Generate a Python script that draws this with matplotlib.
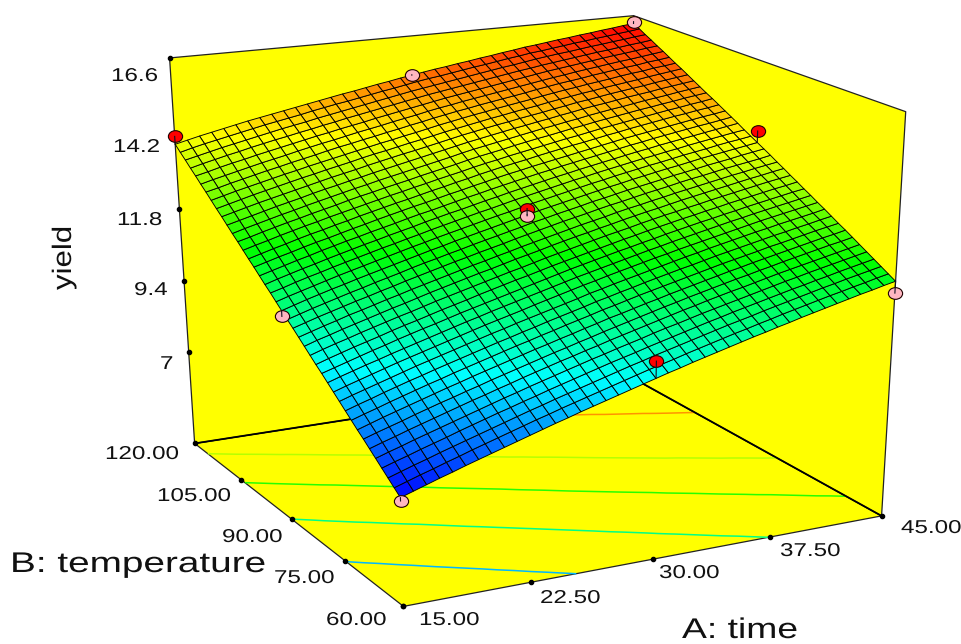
import numpy as np
import matplotlib
matplotlib.use('Agg')
import matplotlib.pyplot as plt
import matplotlib.patheffects as pe
from matplotlib.colors import LinearSegmentedColormap, Normalize
from matplotlib.path import Path
from matplotlib.transforms import Affine2D
from mpl_toolkits.mplot3d.art3d import Poly3DCollection

W, H = 962, 644
plt.rcParams['font.family'] = ['Liberation Sans', 'DejaVu Sans']

# axis ranges and ticks
A_TICKS = [15.0, 22.5, 30.0, 37.5, 45.0]
B_TICKS = [60.0, 75.0, 90.0, 105.0, 120.0]
Z_TICKS = [7.0, 9.4, 11.8, 14.2, 16.6]
Z_FLOOR = 3.8

# design points
RED_A = [30, 30, 45, 15]
RED_B = [60, 90, 90, 120]
RED_Y = [10.08, 12.75, 14.35, 14.13]
PINK_A = [15, 45, 15, 30, 30, 45]
PINK_B = [60, 60, 90, 90, 120, 120]
PINK_Y = [7.08, 11.08, 10.37, 12.52, 15.34, 16.40]

SURF_A = np.linspace(15, 45, 41)
SURF_B = np.linspace(60, 120, 41)
SURF_Z = [
    [7.18, 7.31, 7.44, 7.57, 7.69, 7.82, 7.94, 8.06, 8.18, 8.30, 8.42, 8.54, 8.66, 8.77, 8.89, 9.00, 9.11, 9.22, 9.33, 9.44, 9.55, 9.66, 9.76, 9.87, 9.97, 10.07, 10.17, 10.27, 10.37, 10.46, 10.56, 10.65, 10.75, 10.84, 10.93, 11.02, 11.11, 11.20, 11.28, 11.37, 11.45],
    [7.35, 7.48, 7.61, 7.73, 7.86, 7.98, 8.11, 8.23, 8.35, 8.47, 8.59, 8.71, 8.82, 8.94, 9.05, 9.16, 9.27, 9.38, 9.49, 9.60, 9.71, 9.81, 9.91, 10.02, 10.12, 10.22, 10.32, 10.42, 10.51, 10.61, 10.70, 10.80, 10.89, 10.98, 11.07, 11.16, 11.24, 11.33, 11.41, 11.50, 11.58],
    [7.52, 7.65, 7.78, 7.90, 8.03, 8.15, 8.27, 8.39, 8.51, 8.63, 8.75, 8.87, 8.98, 9.10, 9.21, 9.32, 9.43, 9.54, 9.65, 9.76, 9.86, 9.97, 10.07, 10.17, 10.27, 10.37, 10.47, 10.57, 10.66, 10.75, 10.85, 10.94, 11.03, 11.12, 11.21, 11.30, 11.38, 11.47, 11.55, 11.63, 11.71],
    [7.69, 7.82, 7.94, 8.07, 8.19, 8.31, 8.44, 8.56, 8.68, 8.80, 8.91, 9.03, 9.14, 9.26, 9.37, 9.48, 9.59, 9.70, 9.81, 9.91, 10.01, 10.12, 10.22, 10.32, 10.42, 10.52, 10.62, 10.71, 10.81, 10.90, 10.99, 11.08, 11.17, 11.26, 11.34, 11.43, 11.51, 11.60, 11.68, 11.76, 11.84],
    [7.86, 7.99, 8.11, 8.24, 8.36, 8.48, 8.60, 8.72, 8.84, 8.96, 9.08, 9.19, 9.31, 9.42, 9.53, 9.64, 9.75, 9.86, 9.96, 10.07, 10.17, 10.27, 10.38, 10.48, 10.57, 10.67, 10.77, 10.86, 10.95, 11.04, 11.13, 11.22, 11.31, 11.40, 11.48, 11.57, 11.65, 11.73, 11.81, 11.89, 11.97],
    [8.03, 8.16, 8.28, 8.41, 8.53, 8.65, 8.77, 8.89, 9.01, 9.12, 9.24, 9.35, 9.47, 9.58, 9.69, 9.80, 9.90, 10.01, 10.11, 10.22, 10.32, 10.42, 10.52, 10.62, 10.72, 10.82, 10.91, 11.01, 11.10, 11.19, 11.27, 11.36, 11.45, 11.54, 11.62, 11.70, 11.78, 11.86, 11.94, 12.02, 12.10],
    [8.20, 8.33, 8.45, 8.57, 8.70, 8.82, 8.94, 9.05, 9.17, 9.28, 9.40, 9.51, 9.62, 9.73, 9.84, 9.95, 10.05, 10.16, 10.26, 10.37, 10.47, 10.57, 10.67, 10.77, 10.87, 10.96, 11.06, 11.15, 11.24, 11.33, 11.42, 11.50, 11.59, 11.67, 11.76, 11.84, 11.92, 12.00, 12.08, 12.15, 12.23],
    [8.36, 8.49, 8.62, 8.74, 8.86, 8.98, 9.10, 9.22, 9.33, 9.45, 9.56, 9.67, 9.78, 9.89, 10.00, 10.10, 10.21, 10.31, 10.42, 10.52, 10.63, 10.72, 10.82, 10.92, 11.01, 11.11, 11.20, 11.29, 11.38, 11.47, 11.56, 11.64, 11.73, 11.81, 11.89, 11.97, 12.05, 12.13, 12.21, 12.28, 12.36],
    [8.53, 8.66, 8.78, 8.91, 9.03, 9.15, 9.27, 9.38, 9.50, 9.61, 9.72, 9.83, 9.94, 10.05, 10.15, 10.26, 10.36, 10.47, 10.57, 10.67, 10.78, 10.87, 10.97, 11.07, 11.16, 11.25, 11.34, 11.43, 11.52, 11.61, 11.70, 11.78, 11.86, 11.94, 12.03, 12.10, 12.18, 12.26, 12.34, 12.41, 12.48],
    [8.70, 8.83, 8.95, 9.08, 9.20, 9.32, 9.43, 9.55, 9.66, 9.77, 9.88, 9.99, 10.10, 10.20, 10.31, 10.41, 10.52, 10.62, 10.72, 10.82, 10.93, 11.02, 11.12, 11.21, 11.31, 11.40, 11.49, 11.58, 11.66, 11.75, 11.84, 11.92, 12.00, 12.08, 12.16, 12.24, 12.31, 12.39, 12.46, 12.54, 12.61],
    [8.87, 9.00, 9.12, 9.24, 9.36, 9.48, 9.60, 9.71, 9.82, 9.93, 10.04, 10.15, 10.26, 10.36, 10.47, 10.57, 10.67, 10.77, 10.87, 10.97, 11.08, 11.17, 11.27, 11.36, 11.45, 11.54, 11.63, 11.72, 11.81, 11.89, 11.98, 12.06, 12.14, 12.22, 12.30, 12.37, 12.45, 12.52, 12.59, 12.66, 12.74],
    [9.04, 9.17, 9.29, 9.41, 9.53, 9.65, 9.76, 9.87, 9.98, 10.09, 10.20, 10.31, 10.42, 10.52, 10.62, 10.72, 10.83, 10.93, 11.03, 11.13, 11.23, 11.32, 11.42, 11.51, 11.60, 11.69, 11.78, 11.86, 11.95, 12.03, 12.11, 12.19, 12.27, 12.35, 12.43, 12.51, 12.58, 12.65, 12.72, 12.79, 12.86],
    [9.21, 9.34, 9.46, 9.58, 9.69, 9.81, 9.92, 10.03, 10.14, 10.25, 10.36, 10.47, 10.57, 10.68, 10.78, 10.88, 10.98, 11.08, 11.18, 11.28, 11.38, 11.47, 11.56, 11.65, 11.74, 11.83, 11.92, 12.00, 12.09, 12.17, 12.25, 12.33, 12.41, 12.49, 12.56, 12.64, 12.71, 12.78, 12.85, 12.92, 12.99],
    [9.38, 9.50, 9.62, 9.74, 9.86, 9.97, 10.09, 10.20, 10.31, 10.41, 10.52, 10.63, 10.73, 10.83, 10.93, 11.03, 11.13, 11.23, 11.33, 11.43, 11.53, 11.62, 11.71, 11.80, 11.89, 11.97, 12.06, 12.14, 12.23, 12.31, 12.39, 12.47, 12.54, 12.62, 12.69, 12.77, 12.84, 12.91, 12.98, 13.05, 13.11],
    [9.54, 9.67, 9.79, 9.91, 10.02, 10.13, 10.25, 10.36, 10.46, 10.57, 10.68, 10.78, 10.88, 10.99, 11.09, 11.19, 11.29, 11.38, 11.48, 11.58, 11.67, 11.76, 11.85, 11.94, 12.03, 12.12, 12.20, 12.29, 12.37, 12.45, 12.53, 12.60, 12.68, 12.75, 12.83, 12.90, 12.97, 13.04, 13.11, 13.17, 13.24],
    [9.71, 9.84, 9.96, 10.07, 10.19, 10.30, 10.41, 10.52, 10.62, 10.73, 10.84, 10.94, 11.04, 11.14, 11.24, 11.34, 11.44, 11.53, 11.63, 11.73, 11.82, 11.91, 12.00, 12.09, 12.18, 12.26, 12.34, 12.43, 12.51, 12.59, 12.66, 12.74, 12.81, 12.89, 12.96, 13.03, 13.10, 13.17, 13.24, 13.30, 13.36],
    [9.88, 10.01, 10.12, 10.24, 10.35, 10.46, 10.57, 10.68, 10.78, 10.89, 11.00, 11.10, 11.20, 11.30, 11.40, 11.49, 11.59, 11.69, 11.78, 11.87, 11.97, 12.06, 12.15, 12.23, 12.32, 12.40, 12.49, 12.57, 12.65, 12.72, 12.80, 12.88, 12.95, 13.02, 13.09, 13.16, 13.23, 13.30, 13.36, 13.43, 13.49],
    [10.05, 10.17, 10.29, 10.40, 10.52, 10.62, 10.73, 10.84, 10.94, 11.05, 11.15, 11.25, 11.35, 11.45, 11.55, 11.64, 11.74, 11.83, 11.93, 12.02, 12.11, 12.20, 12.29, 12.38, 12.46, 12.54, 12.63, 12.71, 12.78, 12.86, 12.93, 13.01, 13.08, 13.15, 13.22, 13.29, 13.36, 13.42, 13.49, 13.55, 13.61],
    [10.22, 10.34, 10.46, 10.57, 10.68, 10.79, 10.89, 11.00, 11.10, 11.21, 11.31, 11.41, 11.51, 11.61, 11.70, 11.80, 11.89, 11.98, 12.08, 12.17, 12.26, 12.35, 12.44, 12.52, 12.60, 12.69, 12.77, 12.84, 12.92, 13.00, 13.07, 13.14, 13.22, 13.29, 13.35, 13.42, 13.49, 13.55, 13.61, 13.67, 13.74],
    [10.38, 10.50, 10.62, 10.73, 10.84, 10.95, 11.05, 11.16, 11.26, 11.36, 11.47, 11.57, 11.66, 11.76, 11.85, 11.95, 12.04, 12.13, 12.22, 12.31, 12.41, 12.49, 12.58, 12.66, 12.74, 12.83, 12.90, 12.98, 13.06, 13.13, 13.20, 13.27, 13.35, 13.41, 13.48, 13.55, 13.61, 13.67, 13.74, 13.80, 13.86],
    [10.55, 10.67, 10.79, 10.90, 11.01, 11.11, 11.22, 11.32, 11.42, 11.52, 11.62, 11.72, 11.82, 11.91, 12.01, 12.10, 12.19, 12.28, 12.37, 12.46, 12.55, 12.64, 12.72, 12.80, 12.88, 12.96, 13.04, 13.12, 13.19, 13.27, 13.34, 13.41, 13.48, 13.54, 13.61, 13.68, 13.74, 13.80, 13.86, 13.92, 13.98],
    [10.72, 10.84, 10.95, 11.06, 11.17, 11.28, 11.38, 11.48, 11.58, 11.68, 11.78, 11.88, 11.97, 12.07, 12.16, 12.25, 12.34, 12.43, 12.52, 12.60, 12.69, 12.78, 12.86, 12.94, 13.02, 13.10, 13.18, 13.25, 13.33, 13.40, 13.47, 13.54, 13.60, 13.67, 13.74, 13.80, 13.86, 13.93, 13.99, 14.04, 14.10],
    [10.89, 11.00, 11.12, 11.23, 11.33, 11.44, 11.54, 11.64, 11.74, 11.84, 11.93, 12.03, 12.12, 12.22, 12.31, 12.40, 12.49, 12.58, 12.66, 12.75, 12.84, 12.92, 13.00, 13.08, 13.16, 13.24, 13.31, 13.39, 13.46, 13.53, 13.60, 13.67, 13.73, 13.80, 13.86, 13.93, 13.99, 14.05, 14.11, 14.17, 14.22],
    [11.05, 11.17, 11.28, 11.39, 11.49, 11.60, 11.70, 11.80, 11.90, 11.99, 12.09, 12.18, 12.27, 12.37, 12.46, 12.55, 12.63, 12.72, 12.81, 12.89, 12.98, 13.06, 13.14, 13.22, 13.30, 13.37, 13.45, 13.52, 13.59, 13.66, 13.73, 13.80, 13.86, 13.93, 13.99, 14.05, 14.11, 14.17, 14.23, 14.29, 14.35],
    [11.22, 11.33, 11.44, 11.55, 11.65, 11.76, 11.86, 11.96, 12.05, 12.15, 12.24, 12.33, 12.43, 12.52, 12.60, 12.69, 12.78, 12.87, 12.95, 13.04, 13.12, 13.20, 13.28, 13.36, 13.43, 13.51, 13.58, 13.65, 13.72, 13.79, 13.86, 13.93, 13.99, 14.06, 14.12, 14.18, 14.24, 14.30, 14.35, 14.41, 14.47],
    [11.39, 11.50, 11.61, 11.71, 11.82, 11.92, 12.01, 12.11, 12.21, 12.30, 12.40, 12.49, 12.58, 12.67, 12.75, 12.84, 12.93, 13.01, 13.10, 13.18, 13.27, 13.35, 13.42, 13.50, 13.57, 13.64, 13.71, 13.78, 13.85, 13.92, 13.99, 14.06, 14.12, 14.18, 14.24, 14.30, 14.36, 14.42, 14.48, 14.53, 14.59],
    [11.55, 11.66, 11.77, 11.87, 11.98, 12.08, 12.17, 12.27, 12.36, 12.46, 12.55, 12.64, 12.73, 12.81, 12.90, 12.99, 13.07, 13.16, 13.24, 13.33, 13.41, 13.49, 13.56, 13.63, 13.71, 13.78, 13.85, 13.92, 13.98, 14.05, 14.12, 14.18, 14.25, 14.31, 14.37, 14.43, 14.49, 14.54, 14.60, 14.65, 14.71],
    [11.72, 11.83, 11.93, 12.04, 12.14, 12.24, 12.33, 12.43, 12.52, 12.61, 12.70, 12.79, 12.88, 12.96, 13.05, 13.13, 13.22, 13.30, 13.38, 13.47, 13.55, 13.62, 13.70, 13.77, 13.84, 13.91, 13.98, 14.05, 14.11, 14.18, 14.25, 14.31, 14.37, 14.43, 14.49, 14.55, 14.61, 14.66, 14.72, 14.77, 14.83],
    [11.89, 11.99, 12.10, 12.20, 12.30, 12.39, 12.49, 12.58, 12.67, 12.77, 12.86, 12.94, 13.03, 13.11, 13.19, 13.28, 13.36, 13.44, 13.52, 13.61, 13.69, 13.76, 13.83, 13.91, 13.98, 14.05, 14.11, 14.18, 14.25, 14.31, 14.38, 14.44, 14.50, 14.56, 14.62, 14.67, 14.73, 14.78, 14.84, 14.89, 14.94],
    [12.05, 12.16, 12.26, 12.36, 12.46, 12.55, 12.65, 12.74, 12.83, 12.92, 13.01, 13.09, 13.18, 13.26, 13.34, 13.42, 13.50, 13.58, 13.66, 13.75, 13.83, 13.90, 13.97, 14.04, 14.11, 14.18, 14.25, 14.31, 14.38, 14.44, 14.51, 14.57, 14.63, 14.68, 14.74, 14.80, 14.85, 14.90, 14.96, 15.01, 15.06],
    [12.22, 12.32, 12.42, 12.52, 12.62, 12.71, 12.80, 12.90, 12.99, 13.07, 13.16, 13.24, 13.33, 13.41, 13.49, 13.57, 13.65, 13.73, 13.81, 13.89, 13.97, 14.04, 14.11, 14.18, 14.25, 14.31, 14.38, 14.44, 14.51, 14.57, 14.64, 14.70, 14.75, 14.81, 14.87, 14.92, 14.97, 15.03, 15.08, 15.13, 15.18],
    [12.39, 12.49, 12.59, 12.69, 12.78, 12.87, 12.96, 13.05, 13.14, 13.23, 13.31, 13.39, 13.48, 13.56, 13.64, 13.72, 13.79, 13.87, 13.95, 14.03, 14.11, 14.18, 14.25, 14.32, 14.38, 14.45, 14.51, 14.57, 14.64, 14.70, 14.77, 14.82, 14.88, 14.94, 14.99, 15.04, 15.09, 15.15, 15.20, 15.25, 15.30],
    [12.55, 12.65, 12.75, 12.85, 12.94, 13.03, 13.12, 13.21, 13.29, 13.38, 13.46, 13.54, 13.63, 13.71, 13.78, 13.86, 13.94, 14.01, 14.09, 14.17, 14.24, 14.31, 14.38, 14.45, 14.51, 14.58, 14.64, 14.70, 14.77, 14.83, 14.89, 14.95, 15.00, 15.06, 15.11, 15.16, 15.21, 15.27, 15.32, 15.37, 15.42],
    [12.72, 12.82, 12.92, 13.01, 13.10, 13.19, 13.28, 13.36, 13.45, 13.53, 13.61, 13.69, 13.77, 13.85, 13.93, 14.00, 14.08, 14.15, 14.23, 14.31, 14.38, 14.45, 14.52, 14.58, 14.65, 14.71, 14.77, 14.83, 14.90, 14.96, 15.02, 15.07, 15.13, 15.18, 15.23, 15.29, 15.34, 15.38, 15.44, 15.48, 15.53],
    [12.89, 12.98, 13.08, 13.17, 13.26, 13.35, 13.43, 13.52, 13.60, 13.68, 13.77, 13.85, 13.92, 14.00, 14.07, 14.15, 14.22, 14.30, 14.37, 14.45, 14.52, 14.59, 14.65, 14.72, 14.78, 14.84, 14.90, 14.96, 15.03, 15.09, 15.15, 15.20, 15.25, 15.31, 15.36, 15.41, 15.46, 15.50, 15.56, 15.60, 15.65],
    [13.05, 13.15, 13.24, 13.33, 13.42, 13.51, 13.59, 13.67, 13.76, 13.84, 13.92, 13.99, 14.07, 14.15, 14.22, 14.29, 14.37, 14.44, 14.51, 14.59, 14.66, 14.72, 14.79, 14.85, 14.91, 14.97, 15.03, 15.09, 15.15, 15.21, 15.27, 15.32, 15.38, 15.43, 15.48, 15.53, 15.58, 15.62, 15.67, 15.72, 15.77],
    [13.22, 13.31, 13.41, 13.50, 13.58, 13.67, 13.75, 13.83, 13.91, 13.99, 14.07, 14.14, 14.22, 14.29, 14.36, 14.44, 14.51, 14.58, 14.65, 14.72, 14.79, 14.86, 14.92, 14.98, 15.04, 15.10, 15.16, 15.22, 15.28, 15.34, 15.40, 15.45, 15.50, 15.55, 15.60, 15.65, 15.70, 15.74, 15.79, 15.84, 15.88],
    [13.38, 13.48, 13.57, 13.66, 13.74, 13.83, 13.91, 13.99, 14.06, 14.14, 14.21, 14.29, 14.36, 14.44, 14.51, 14.58, 14.65, 14.72, 14.79, 14.86, 14.93, 14.99, 15.05, 15.11, 15.17, 15.23, 15.29, 15.35, 15.41, 15.46, 15.52, 15.57, 15.62, 15.67, 15.72, 15.77, 15.81, 15.86, 15.91, 15.95, 16.00],
    [13.55, 13.64, 13.73, 13.82, 13.90, 13.98, 14.06, 14.14, 14.22, 14.29, 14.36, 14.44, 14.51, 14.58, 14.65, 14.72, 14.79, 14.86, 14.93, 15.00, 15.06, 15.12, 15.18, 15.24, 15.30, 15.36, 15.42, 15.48, 15.53, 15.59, 15.65, 15.70, 15.75, 15.79, 15.84, 15.89, 15.93, 15.98, 16.02, 16.07, 16.11],
    [13.71, 13.81, 13.90, 13.98, 14.06, 14.14, 14.22, 14.30, 14.37, 14.44, 14.51, 14.59, 14.66, 14.73, 14.79, 14.86, 14.93, 15.00, 15.06, 15.13, 15.20, 15.26, 15.31, 15.37, 15.43, 15.49, 15.54, 15.60, 15.66, 15.71, 15.77, 15.81, 15.86, 15.91, 15.96, 16.00, 16.05, 16.09, 16.14, 16.18, 16.23],
    [13.88, 13.97, 14.06, 14.14, 14.22, 14.30, 14.38, 14.45, 14.52, 14.59, 14.66, 14.73, 14.80, 14.87, 14.94, 15.00, 15.07, 15.14, 15.20, 15.27, 15.33, 15.39, 15.45, 15.50, 15.56, 15.61, 15.67, 15.72, 15.78, 15.83, 15.89, 15.93, 15.98, 16.03, 16.07, 16.12, 16.16, 16.21, 16.25, 16.30, 16.34],
]
CONTOUR_LEVELS = [8.85, 10.55, 12.1, 13.4, 15.0]

# camera: where known corners of the box land on the picture (pixels)
CAMERA_3D = [(15, 60, Z_FLOOR), (45, 60, Z_FLOOR), (15, 120, Z_FLOOR), (45, 120, Z_FLOOR),
             (15, 120, 16.6), (45, 120, 16.6), (45, 60, 16.6),
             (15, 120, 7), (15, 120, 9.4), (15, 120, 11.8),
             (15, 75, Z_FLOOR), (15, 90, Z_FLOOR), (15, 105, Z_FLOOR), (37.5, 60, Z_FLOOR)]
CAMERA_PX = [(400.3, 605.7), (883.7, 514.3), (192.3, 441), (631.5, 376.4),
             (170.7, 61), (631, 19), (909, 109),
             (186.7, 350), (182.7, 277.7), (179, 205.3),
             (348.3, 564.3), (296, 523.3), (244.3, 481.7), (762.3, 537)]


def solve_camera():
    rows, rhs = [], []
    for (x, y, z), (u, v) in zip(CAMERA_3D, CAMERA_PX):
        rows.append([x, y, z, 1, 0, 0, 0, 0, -u * x, -u * y, -u * z])
        rows.append([0, 0, 0, 0, x, y, z, 1, -v * x, -v * y, -v * z])
        rhs += [u, v]
    p = np.linalg.lstsq(np.array(rows), np.array(rhs), rcond=None)[0]
    return np.append(p, 1.0).reshape(3, 4)


class Stretch(pe.AbstractPathEffect):
    # the picture's text is wider than any installed font
    def __init__(self, sx):
        super().__init__()
        self.sx = sx

    def draw_path(self, renderer, gc, tpath, affine, rgbFace=None):
        renderer.draw_path(gc, tpath, Affine2D().scale(self.sx, 1) + affine, rgbFace)


fig = plt.figure(figsize=(W / 100, H / 100), dpi=100, facecolor='white')
# Axes3D keeps itself square, so make it cover the whole figure
ax = fig.add_axes([0, -(W / H - 1) / 2, 1, W / H], projection='3d')
ax.set_axis_off()
ax.patch.set_visible(False)
ax.computed_zorder = False

P = solve_camera()
null_row = np.linalg.svd(P)[2][-1]


def camera_proj():
    to_display = np.array([[1, 0, 0], [0, -1, H], [0, 0, 1.0]])
    view = ax.transData.inverted().get_matrix() @ to_display @ P
    return np.array([view[0], view[1], null_row, view[2]])


ax.get_proj = camera_proj

cmap = LinearSegmentedColormap.from_list('de', ['#0000FF', '#00FFFF', '#00FF00', '#FFFF00', '#FF0000'])
Z = np.array(SURF_Z)
norm = Normalize(Z.min(), Z.max())
AA, BB = np.meshgrid(SURF_A, SURF_B)
a0, a1, b0, b1 = A_TICKS[0], A_TICKS[-1], B_TICKS[0], B_TICKS[-1]
ztop = Z_TICKS[-1]

# box
walls = [
    [(a0, b0, Z_FLOOR), (a1, b0, Z_FLOOR), (a1, b1, Z_FLOOR), (a0, b1, Z_FLOOR)],
    [(a0, b1, Z_FLOOR), (a1, b1, Z_FLOOR), (a1, b1, ztop), (a0, b1, ztop)],
    [(a1, b1, Z_FLOOR), (a1, b0, Z_FLOOR), (a1, b0, ztop), (a1, b1, ztop)],
]
ax.add_collection3d(Poly3DCollection(walls, facecolors='#FFFF00', edgecolors='#222222',
                                     linewidths=0.9, zorder=1))
ax.contour(AA, BB, Z, levels=CONTOUR_LEVELS, zdir='z', offset=Z_FLOOR, cmap=cmap,
           vmin=Z.min(), vmax=Z.max(), linewidths=1.1, zorder=2)
ax.plot([a0, a1, a1], [b1, b1, b0], [Z_FLOOR] * 3, color='black', lw=1.3, zorder=3)

ax.plot_surface(AA, BB, Z, rstride=1, cstride=1, cmap=cmap, norm=norm, shade=False,
                edgecolor='black', linewidth=0.65, zorder=4)

# ticks on the box
dot = dict(color='black', s=9, depthshade=False, zorder=5)
ax.scatter(A_TICKS, [b0] * 5, [Z_FLOOR] * 5, **dot)
ax.scatter([a0] * 5, B_TICKS, [Z_FLOOR] * 5, **dot)
ax.scatter([a0] * 5, [b1] * 5, Z_TICKS, **dot)

# design points, slightly flat like the picture
ellipse = Path.unit_circle().transformed(Affine2D().scale(1, 0.82))
ax.scatter(RED_A, RED_B, RED_Y, s=105, marker=ellipse, c='#FF0000', edgecolors='#200000',
           linewidths=0.8, depthshade=False, zorder=6)
ax.scatter(PINK_A, PINK_B, PINK_Y, s=105, marker=ellipse, c='#FFB6C1', edgecolors='#200000',
           linewidths=0.8, depthshade=False, zorder=7)

# stems from each point to the surface
for xs, ys, vals in [(RED_A, RED_B, RED_Y), (PINK_A, PINK_B, PINK_Y)]:
    for a, b, y in zip(xs, ys, vals):
        surf = Z[np.argmin(np.abs(SURF_B - b)), np.argmin(np.abs(SURF_A - a))]
        ax.plot([a, a], [b, b], [y, surf], color='#101020', lw=0.8, zorder=8)


def label(text, x, y, size=13.4, sx=1.3, **kw):
    fig.text(x / W, 1 - y / H, text, fontsize=size, color='#111111', ha='left', va='baseline',
             path_effects=[Stretch(sx)], **kw)


for t, x, y in zip(['16.6', '14.2', '11.8', '9.4', '7'], [111, 113, 117, 134, 160], [81, 152, 225, 295, 369]):
    label(t, x, y)
for t, x, y in zip(['120.00', '105.00', '90.00', '75.00', '60.00'],
                   [105, 157, 222, 274, 326], [459, 501, 542, 583, 625]):
    label(t, x, y)
for t, x, y in zip(['15.00', '22.50', '30.00', '37.50', '45.00'],
                   [419, 540, 659, 780, 901], [625, 603, 578, 556, 533]):
    label(t, x, y)
label('B: temperature', 10, 572, size=20.5, sx=1.36)
label('A: time', 682, 638, size=20.5, sx=1.31)
label('yield', 71, 290, size=19.2, sx=1.17, rotation=90, rotation_mode='anchor')

fig.savefig('out.png', dpi=100)
